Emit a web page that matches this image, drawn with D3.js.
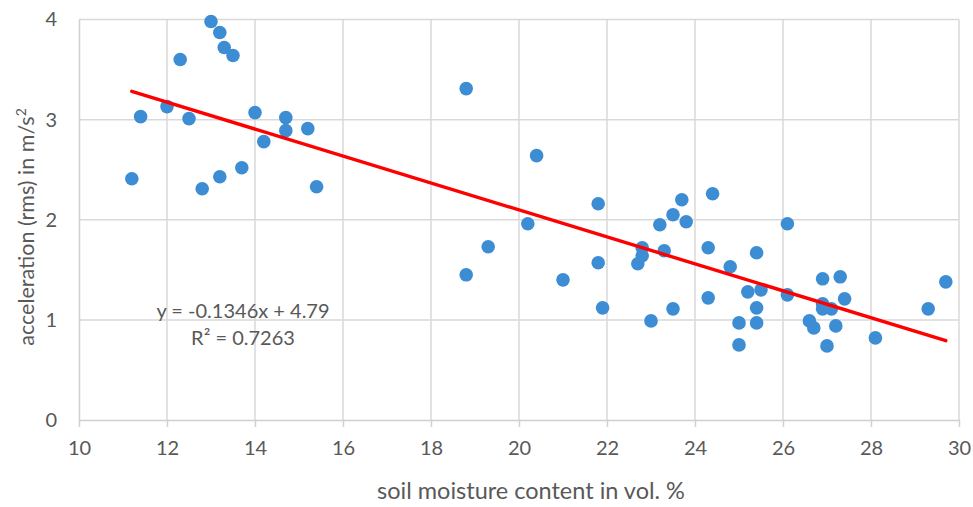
<!DOCTYPE html>
<html>
<head>
<meta charset="utf-8">
<script src="https://cdn.jsdelivr.net/npm/d3@7"></script>
<style>
  html, body { margin: 0; padding: 0; background: #fff; }
  svg text { font-family: "Lato", "Open Sans", sans-serif; fill: #595959; }
</style>
</head>
<body>
<svg id="chart" width="973" height="507"></svg>
<script>
// soil moisture (vol. %) per measurement
const moisture = [
  11.2, 11.4, 12.0, 12.3, 12.5, 12.8, 13.0, 13.2, 13.2, 13.3, 13.5, 13.7, 14.0, 14.2, 14.7, 14.7, 15.2, 15.4,
  18.8, 18.8, 19.3, 20.2, 20.4, 21.0, 21.8, 21.8, 21.9,
  22.7, 22.8, 22.8, 23.0, 23.2, 23.3, 23.5, 23.5, 23.7, 23.8, 24.3, 24.3, 24.4, 24.8, 25.0, 25.0, 25.2,
  25.4, 25.4, 25.4, 25.5, 26.1, 26.1, 26.6, 26.7, 26.9, 26.9, 26.9, 27.0, 27.1, 27.2, 27.3, 27.4, 28.1, 29.3, 29.7
];
// rms acceleration (m/s²) per measurement
const acceleration = [
  2.41, 3.03, 3.13, 3.60, 3.01, 2.31, 3.98, 2.43, 3.87, 3.72, 3.64, 2.52, 3.07, 2.78, 3.02, 2.89, 2.91, 2.33,
  3.31, 1.45, 1.73, 1.96, 2.64, 1.40, 2.16, 1.57, 1.12,
  1.56, 1.72, 1.64, 0.99, 1.95, 1.69, 2.05, 1.11, 2.20, 1.98, 1.72, 1.22, 2.26, 1.53, 0.97, 0.75, 1.28,
  1.67, 1.12, 0.97, 1.30, 1.96, 1.25, 0.99, 0.92, 1.41, 1.16, 1.11, 0.74, 1.11, 0.94, 1.43, 1.21, 0.82, 1.11, 1.38
];
// linear trend: y = slope * x + intercept
const trendSlope = -0.1346;
const trendIntercept = 4.79;
const trendLabels = ["y = -0.1346x + 4.79", "R² = 0.7263"];

const xTicks = [10, 12, 14, 16, 18, 20, 22, 24, 26, 28, 30];
const yTicks = [0, 1, 2, 3, 4];

const svg = d3.select("#chart");
const m = { left: 79, right: 14, top: 19.5, bottom: 87 };
const W = 973, H = 507;

const x = d3.scaleLinear().domain([10, 30]).range([m.left, W - m.right]);
const y = d3.scaleLinear().domain([0, 4]).range([H - m.bottom, m.top]);

const gridColor = "#d9d9d9";
const axisColor = "#d0d0d0";

// grid
svg.append("g").selectAll("line").data(xTicks.slice(1)).join("line")
  .attr("x1", d => x(d)).attr("x2", d => x(d))
  .attr("y1", y(4)).attr("y2", y(0))
  .attr("stroke", gridColor).attr("stroke-width", 1.5);
svg.append("g").selectAll("line").data(yTicks.slice(1)).join("line")
  .attr("x1", x(10)).attr("x2", x(30))
  .attr("y1", d => y(d)).attr("y2", d => y(d))
  .attr("stroke", gridColor).attr("stroke-width", 1.5);

// x axis with downward ticks
const xAxis = svg.append("g")
  .attr("transform", `translate(0,${y(0)})`)
  .call(d3.axisBottom(x).tickValues(xTicks).tickFormat(d3.format("d"))
    .tickSize(7).tickSizeOuter(0).tickPadding(14));
xAxis.select(".domain").attr("stroke", axisColor).attr("stroke-width", 1.5);
xAxis.selectAll(".tick line").attr("stroke", axisColor).attr("stroke-width", 1.5);
xAxis.selectAll(".tick text").attr("font-size", 20).style("fill", "#595959")
  .style("font-family", "Lato, sans-serif");

// y axis line + labels
const yAxis = svg.append("g")
  .attr("transform", `translate(${x(10)},0)`)
  .call(d3.axisLeft(y).tickValues(yTicks).tickFormat(d3.format("d"))
    .tickSize(0).tickSizeOuter(0).tickPadding(22));
yAxis.select(".domain").attr("stroke", axisColor).attr("stroke-width", 1.5);
yAxis.selectAll(".tick text").attr("font-size", 20).style("fill", "#595959")
  .style("font-family", "Lato, sans-serif");

// points
const pts = moisture.map((d, i) => ({ mx: d, ac: acceleration[i] }));
svg.append("g").selectAll("circle").data(pts).join("circle")
  .attr("cx", d => x(d.mx)).attr("cy", d => y(d.ac))
  .attr("r", 6.8).attr("fill", "#3d8dd5");

// trend line over the data extent
const [xMin, xMax] = d3.extent(moisture);
svg.append("line")
  .attr("x1", x(xMin)).attr("y1", y(trendSlope * xMin + trendIntercept))
  .attr("x2", x(xMax)).attr("y2", y(trendSlope * xMax + trendIntercept))
  .attr("stroke", "#ff0000").attr("stroke-width", 3.4).attr("stroke-linecap", "round");

// trend equation
svg.append("text").attr("x", 243).attr("y", 318).attr("text-anchor", "middle")
  .attr("font-size", 20).text(trendLabels[0]);
svg.append("text").attr("x", 243).attr("y", 345).attr("text-anchor", "middle")
  .attr("font-size", 20).text(trendLabels[1]);

// axis titles
svg.append("text").attr("x", 531).attr("y", 499).attr("text-anchor", "middle")
  .attr("font-size", 23.5).text("soil moisture content in vol. %");

const yt = svg.append("text")
  .attr("transform", "translate(34,227) rotate(-90)")
  .attr("text-anchor", "middle").attr("font-size", 21.5);
yt.append("tspan").text("acceleration (rms) in m/s");
yt.append("tspan").attr("dy", -8).attr("font-size", 14).text("2");
</script>
</body>
</html>
